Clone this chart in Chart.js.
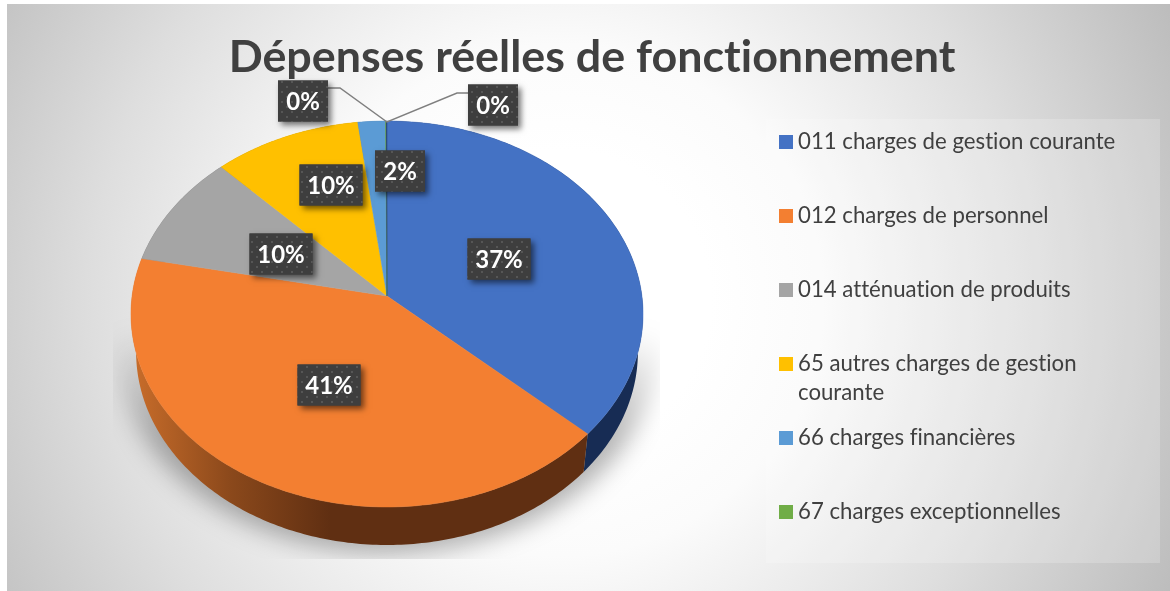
<!DOCTYPE html>
<html lang="fr">
<head>
<meta charset="utf-8">
<title>Dépenses réelles de fonctionnement</title>
<script src="https://cdn.jsdelivr.net/npm/chart.js@4/dist/chart.umd.js"></script>
<style>
  html, body { margin: 0; padding: 0; background: #fff; }
  #wrap { position: relative; width: 1170px; height: 591px; }
  canvas { font-variant-ligatures: none; }
</style>
</head>
<body>
<div id="wrap"><canvas id="chart" width="1170" height="591"></canvas></div>
<script>
const chartTitle = 'Dépenses réelles de fonctionnement';
const categories = [
  '011 charges de gestion courante',
  '012 charges de personnel',
  '014 atténuation de produits',
  '65 autres charges de gestion courante',
  '66 charges financières',
  '67 charges exceptionnelles',
  '',
];
const values = [36.8, 41.4, 9.6, 10.2, 1.9, 0.05, 0.05];
const sliceColors = ['#4472c4', '#f37f31', '#a5a5a5', '#ffc000', '#5b9bd5', '#70ad47', '#264478'];

// label box centres, picked by hand like the manual placement in the original
const labelCenters = [[499, 259], [329, 385], [281, 254], [331, 185], [400, 171], [303, 101], [493, 105]];

const FONT = 'Lato, "Open Sans", sans-serif';
const TEXT = '#404040';

// top face of the pie is a circle seen in perspective
const PIE_X = 387, PIE_Y = 296, PIE_R = 254.9, PIE_K = 191.3, PIE_Q = 0.0933;
const WALL_DY = 38, WALL_SHRINK = 0.98;

function rim(angle) {
  const w = 1 - PIE_Q * Math.sin(angle);
  return [PIE_X + PIE_R * Math.cos(angle) / w, PIE_Y + PIE_K * Math.sin(angle) / w];
}

function arcPoints(start, end) {
  const steps = Math.max(1, Math.ceil((end - start) / 0.015));
  const pts = [];
  for (let i = 0; i <= steps; i++) pts.push(rim(start + (end - start) * i / steps));
  return pts;
}

// slices keep the angles the pie controller computed, only the path changes
Chart.ArcElement.prototype.draw = function (ctx) {
  const pts = arcPoints(this.startAngle, this.endAngle);
  ctx.save();
  ctx.beginPath();
  ctx.moveTo(PIE_X, PIE_Y);
  pts.forEach(p => ctx.lineTo(p[0], p[1]));
  ctx.closePath();
  ctx.fillStyle = this.options.backgroundColor;
  ctx.fill();
  ctx.strokeStyle = this.options.backgroundColor;
  ctx.lineWidth = 0.5;
  ctx.stroke();
  ctx.restore();
};

const backdrop = {
  id: 'backdrop',
  beforeDraw(chart) {
    const ctx = chart.ctx;
    ctx.save();
    ctx.fontVariantLigatures = 'none';
    ctx.fillStyle = '#fff';
    ctx.fillRect(0, 0, 1170, 591);
    const g = ctx.createRadialGradient(560, 300, 150, 560, 300, 680);
    g.addColorStop(0, '#ffffff');
    g.addColorStop(0.2, '#fbfbfb');
    g.addColorStop(0.6, '#dedede');
    g.addColorStop(1, '#bcbcbc');
    ctx.fillStyle = g;
    ctx.fillRect(7, 4, 1163, 587);

    // legend panel
    ctx.fillStyle = 'rgba(255,255,255,0.2)';
    ctx.fillRect(766, 119, 394, 444);

    // ground shadow
    ctx.beginPath();
    ctx.rect(113, 300, 547, 259);
    ctx.clip();
    ctx.filter = 'blur(12px)';
    const s = ctx.createLinearGradient(0, 330, 0, 440);
    s.addColorStop(0, 'rgba(0,0,0,0)');
    s.addColorStop(1, 'rgba(0,0,0,0.3)');
    ctx.fillStyle = s;
    ctx.beginPath();
    ctx.ellipse(PIE_X, 345, 270, 208, 0, 0, Math.PI * 2);
    ctx.fill();
    ctx.restore();
  },
};

const pieWalls = {
  id: 'pieWalls',
  beforeDatasetsDraw(chart) {
    const ctx = chart.ctx;
    const orange = ctx.createLinearGradient(135, 0, 330, 0);
    orange.addColorStop(0, '#c76c2a');
    orange.addColorStop(0.5, '#8a481b');
    orange.addColorStop(1, '#602f12');
    const wallFill = [ '#172c54', orange, '#6a6a6a', '#a07a00', '#3a6a96', '#4a7530', '#172c54' ];
    chart.getDatasetMeta(0).data.forEach((arc, i) => {
      const top = arcPoints(arc.startAngle, arc.endAngle);
      ctx.save();
      ctx.beginPath();
      top.forEach((p, j) => ctx[j ? 'lineTo' : 'moveTo'](p[0], p[1]));
      top.slice().reverse().forEach(p => {
        ctx.lineTo(PIE_X + (p[0] - PIE_X) * WALL_SHRINK, p[1] + WALL_DY);
      });
      ctx.closePath();
      ctx.fillStyle = wallFill[i];
      ctx.fill();
      ctx.restore();
    });
  },
};

function dotPattern(ctx) {
  const tile = document.createElement('canvas');
  tile.width = 10; tile.height = 10;
  const t = tile.getContext('2d');
  t.fillStyle = '#3e3e3e';
  t.fillRect(0, 0, 10, 10);
  t.fillStyle = '#565656';
  t.fillRect(1, 1, 2, 2);
  t.fillRect(6, 6, 2, 2);
  return ctx.createPattern(tile, 'repeat');
}

const dataLabels = {
  id: 'dataLabels',
  afterDatasetsDraw(chart) {
    const ctx = chart.ctx;
    const total = values.reduce((a, b) => a + b, 0);
    ctx.save();

    // leader lines of the two 0% labels
    ctx.strokeStyle = '#7f7f7f';
    ctx.lineWidth = 1.5;
    ctx.beginPath();
    ctx.moveTo(328, 88); ctx.lineTo(340, 88); ctx.lineTo(387, 122);
    ctx.lineTo(457, 93); ctx.lineTo(468, 93);
    ctx.stroke();

    const pattern = dotPattern(ctx);
    ctx.font = 'bold 24px ' + FONT;
    ctx.textAlign = 'center';
    ctx.textBaseline = 'middle';
    values.forEach((v, i) => {
      const text = Math.round(v / total * 100) + '%';
      const w = text.length > 2 ? 63 : 50;
      const h = 41;
      const [cx, cy] = labelCenters[i];
      ctx.save();
      ctx.shadowColor = 'rgba(0,0,0,0.55)';
      ctx.shadowBlur = 6;
      ctx.shadowOffsetX = 3;
      ctx.shadowOffsetY = 3;
      ctx.fillStyle = '#3e3e3e';
      ctx.fillRect(cx - w / 2, cy - h / 2, w, h);
      ctx.restore();
      ctx.fillStyle = pattern;
      ctx.fillRect(cx - w / 2, cy - h / 2, w, h);
      ctx.fillStyle = '#fff';
      ctx.fillText(text, cx, cy + 1);
    });
    ctx.restore();
  },
};

const sideLegend = {
  id: 'sideLegend',
  afterDraw(chart) {
    const ctx = chart.ctx;
    ctx.save();
    ctx.font = '22.2px ' + FONT;
    ctx.textBaseline = 'alphabetic';
    ctx.textAlign = 'left';
    ctx.letterSpacing = '0.01px'; // keeps Lato from joining "ti"
    categories.forEach((name, i) => {
      if (!name) return;
      const y = 149 + i * 74;
      ctx.fillStyle = sliceColors[i];
      ctx.fillRect(779, y - 14, 14, 14);
      ctx.fillStyle = TEXT;
      const words = name.split(' ');
      let line = '', row = 0;
      words.forEach(word => {
        const next = line ? line + ' ' + word : word;
        if (ctx.measureText(next).width > 340) {
          ctx.fillText(line, 798, y + row * 29);
          row++;
          line = word;
        } else {
          line = next;
        }
      });
      ctx.fillText(line, 798, y + row * 29);
    });
    ctx.restore();
  },
};

new Chart(document.getElementById('chart'), {
  type: 'pie',
  data: {
    labels: categories,
    datasets: [{ data: values, backgroundColor: sliceColors, borderWidth: 0 }],
  },
  options: {
    responsive: false,
    animation: false,
    layout: { padding: { left: 14 } },
    plugins: {
      legend: { display: false },
      tooltip: { enabled: false },
      title: {
        display: true,
        text: chartTitle,
        color: TEXT,
        font: { family: FONT, size: 44.8, weight: 'bold' },
        padding: { top: 31, bottom: 10 },
      },
    },
  },
  plugins: [backdrop, pieWalls, dataLabels, sideLegend],
});
</script>
</body>
</html>
